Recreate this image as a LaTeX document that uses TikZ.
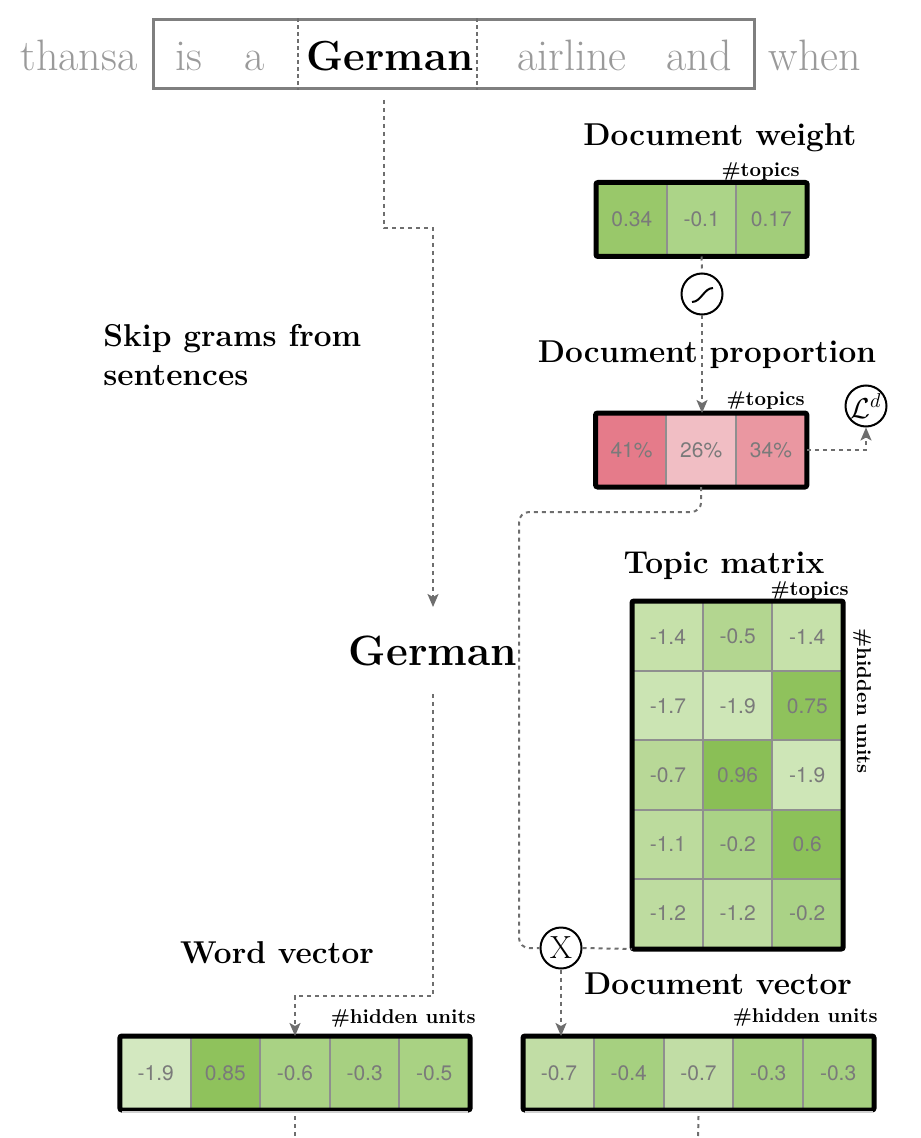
\documentclass[tikz,border=0pt]{standalone}
\usepackage{fontspec}
\newfontfamily\cellfont{TeX Gyre Heros}
\usetikzlibrary{arrows.meta}
\definecolor{conngray}{HTML}{6E6E6E}
\definecolor{cellgray}{HTML}{8F8F8F}
\definecolor{numgray}{HTML}{7A7A7A}
\definecolor{wordgray}{HTML}{9A9A9A}
\definecolor{boxgray}{HTML}{7F7F7F}
\definecolor{ulgray}{HTML}{D0D0D0}
% word vector
\definecolor{wvA}{HTML}{D3E8C0}
\definecolor{wvB}{HTML}{8FC25C}
\definecolor{wvC}{HTML}{A9D284}
\definecolor{wvD}{HTML}{A7D081}
\definecolor{wvE}{HTML}{A9D283}
% document vector
\definecolor{dvA}{HTML}{C1DDA5}
\definecolor{dvB}{HTML}{A6D080}
% document weight
\definecolor{dwA}{HTML}{99C86A}
\definecolor{dwB}{HTML}{ACD488}
\definecolor{dwC}{HTML}{A2CD7A}
% document proportion
\definecolor{dpA}{HTML}{E57B8A}
\definecolor{dpB}{HTML}{F1BEC4}
\definecolor{dpC}{HTML}{EA97A1}
% topic matrix
\definecolor{tmA}{HTML}{C6E1AA}
\definecolor{tmB}{HTML}{B3D690}
\definecolor{tmC}{HTML}{CBE4B3}
\definecolor{tmD}{HTML}{CEE6B7}
\definecolor{tmE}{HTML}{8FC25C}
\definecolor{tmF}{HTML}{B8D897}
\definecolor{tmG}{HTML}{8ABF56}
\definecolor{tmH}{HTML}{BCDB9D}
\definecolor{tmI}{HTML}{AAD286}
\definecolor{tmJ}{HTML}{8CC159}
\definecolor{tmK}{HTML}{BEDCA0}
\begin{document}
\begin{tikzpicture}[x=0.5pt,y=-0.5pt,
  conn/.style={draw=conngray, line width=1pt, dash pattern=on 2pt off 2pt},
  arr/.style={conn, -{Stealth[length=6.5pt,width=5.5pt,inset=1.5pt]}},
  cell/.style={draw=cellgray, line width=1pt, minimum width=34.9pt, minimum height=36pt,
    inner sep=0pt, font=\cellfont\fontsize{10.5}{12}\selectfont, text=numgray},
  mcell/.style={cell, minimum height=34.6pt},
  outer/.style={draw=black, line width=2.5pt, rounded corners=1pt},
  head/.style={font=\fontsize{15.8}{18}\selectfont\bfseries, anchor=base, inner sep=0pt},
  small/.style={font=\fontsize{10}{12}\selectfont\bfseries, anchor=base east, inner sep=0pt},
  word/.style={font=\fontsize{22}{26}\selectfont, text=wordgray, anchor=base, inner sep=0pt},
  op/.style={circle, draw=black, line width=1pt, fill=white, minimum size=20.5pt, inner sep=0pt},
  sepline/.style={draw=conngray, line width=0.8pt, dash pattern=on 2pt off 1.5pt},
  underline/.style={draw=ulgray, line width=0.6pt}
]
\useasboundingbox (0,0) rectangle (920,1138);

% ---------- sentence ----------
\node[draw=boxgray, line width=1.5pt, minimum width=300.5pt, minimum height=34.5pt, inner sep=0pt] (sent) at (454,54.5) {};
\draw[sepline] (298,0 |- sent.north) -- (298,0 |- sent.south);
\draw[sepline] (477,0 |- sent.north) -- (477,0 |- sent.south);
\node[word] (w1) at (79,71) {thansa};
\node[word] (w2) at (189,71) {is};
\node[word] (w3) at (255,71) {a};
\node[word, text=black, font=\fontsize{21}{25}\selectfont\bfseries] (w4) at (390,71) {German};
\node[word] (w5) at (572,71) {airline};
\node[word] (w6) at (699,71) {and};
\node[word] (w7) at (815,71) {when};

% ---------- skip gram label ----------
\node[head, anchor=base west] (skip1) at (103,347) {Skip grams from};
\node[head, anchor=base west] (skip2) at (103,386) {sentences};

% ---------- centre word ----------
\node[anchor=base, font=\fontsize{21.2}{25}\selectfont\bfseries, inner xsep=0pt, inner ysep=14pt] (german) at (433,665) {German};
\coordinate (c1) at (384,100);
\draw[arr] (c1) -- (384,228) -| (german.north);

% ---------- document weight ----------
\node[head] (dwlab) at (720,146) {Document weight};
\node[small] (dwtop) at (800,177) {\#topics};
\node[cell, fill=dwA] (dw1) at (631.9,219.5) {0.34};
\node[cell, fill=dwB] (dw2) at (701.6,219.5) {-0.1};
\node[cell, fill=dwC] (dw3) at (771.3,219.5) {0.17};
\draw[outer] (dw1.north west) rectangle (dw3.south east);

\node[op] (sig) at (702,294) {};
\draw[line width=1pt] (692,302) .. controls (701,302) and (704,288) .. (713,288);

% ---------- document proportion ----------
\node[head] (dplab) at (707,363) {Document proportion};
\node[small] (dptop) at (805,406) {\#topics};
\node[cell, fill=dpA] (dp1) at (631.5,450) {41\%};
\node[cell, fill=dpB] (dp2) at (701.2,450) {26\%};
\node[cell, fill=dpC] (dp3) at (770.9,450) {34\%};
\draw[outer] (dp1.north west) rectangle (dp3.south east);

\draw[conn] (dw2.south) -- (sig.north);
\draw[arr] (sig.south) -- (sig.south |- dp2.north);

\node[op] (loss) at (866,406) {\fontsize{14}{16}\selectfont$\mathcal{L}^d$};
\draw[arr] (dp3.east) -| (loss.south);

% ---------- topic matrix ----------
\node[head] (tmlab) at (724,573) {Topic matrix};
\node[small] (tmtop) at (849,595) {\#topics};
\node[font=\fontsize{10}{12}\selectfont\bfseries, rotate=-90, inner sep=0pt] (tmhid) at (862,701) {\#hidden units};
\node[mcell, fill=tmA] (tm11) at (667.9,636.6) {-1.4};
\node[mcell, fill=tmB] (tm12) at (737.6,636.6) {-0.5};
\node[mcell, fill=tmA] (tm13) at (807.3,636.6) {-1.4};
\node[mcell, fill=tmC] (tm21) at (667.9,705.8) {-1.7};
\node[mcell, fill=tmD] (tm22) at (737.6,705.8) {-1.9};
\node[mcell, fill=tmE] (tm23) at (807.3,705.8) {0.75};
\node[mcell, fill=tmF] (tm31) at (667.9,775.0) {-0.7};
\node[mcell, fill=tmG] (tm32) at (737.6,775.0) {0.96};
\node[mcell, fill=tmD] (tm33) at (807.3,775.0) {-1.9};
\node[mcell, fill=tmH] (tm41) at (667.9,844.2) {-1.1};
\node[mcell, fill=tmI] (tm42) at (737.6,844.2) {-0.2};
\node[mcell, fill=tmJ] (tm43) at (807.3,844.2) {0.6};
\node[mcell, fill=tmK] (tm51) at (667.9,913.4) {-1.2};
\node[mcell, fill=tmK] (tm52) at (737.6,913.4) {-1.2};
\node[mcell, fill=tmI] (tm53) at (807.3,913.4) {-0.2};
\draw[outer] (tm11.north west) rectangle (tm53.south east);

% ---------- product node ----------
\node[op, font=\fontsize{16}{18}\selectfont] (xop) at (561,948) {X};
\draw[conn, rounded corners=5pt] (dp2.south) |- (519,512) |- (xop.west);
\draw[conn] (xop.east) -- (tm51.south west);

% ---------- word vector ----------
\node[head] (wvlab) at (277,963) {Word vector};
\node[small] (wvhid) at (476,1023) {\#hidden units};
\node[cell, fill=wvA] (wv1) at (155.8,1073) {-1.9};
\node[cell, fill=wvB] (wv2) at (225.4,1073) {0.85};
\node[cell, fill=wvC] (wv3) at (295.0,1073) {-0.6};
\node[cell, fill=wvD] (wv4) at (364.6,1073) {-0.3};
\node[cell, fill=wvE] (wv5) at (434.2,1073) {-0.5};
\draw[outer] (wv1.north west) rectangle (wv5.south east);
\draw[arr] (german.south) -- (433,996) -| (wv3.north);
\coordinate (wvout) at (295,1138);
\draw[underline] (122,1112) -- (468,1112);
\draw[conn] (wv3.south) ++(0,-3pt) -- (wvout);

% ---------- document vector ----------
\node[head] (dvlab) at (718,994) {Document vector};
\node[small] (dvhid) at (878,1022) {\#hidden units};
\node[cell, fill=dvA] (dv1) at (558.9,1073) {-0.7};
\node[cell, fill=dvB] (dv2) at (628.7,1073) {-0.4};
\node[cell, fill=dvA] (dv3) at (698.5,1073) {-0.7};
\node[cell, fill=dvB] (dv4) at (768.3,1073) {-0.3};
\node[cell, fill=dvB] (dv5) at (838.1,1073) {-0.3};
\draw[outer] (dv1.north west) rectangle (dv5.south east);
\draw[arr] (xop.south) -- (xop.south |- dv1.north);
\coordinate (dvout) at (698,1138);
\draw[underline] (525,1112) -- (873,1112);
\draw[conn] (dv3.south) ++(0,-3pt) -- (dvout);
\end{tikzpicture}
\end{document}
